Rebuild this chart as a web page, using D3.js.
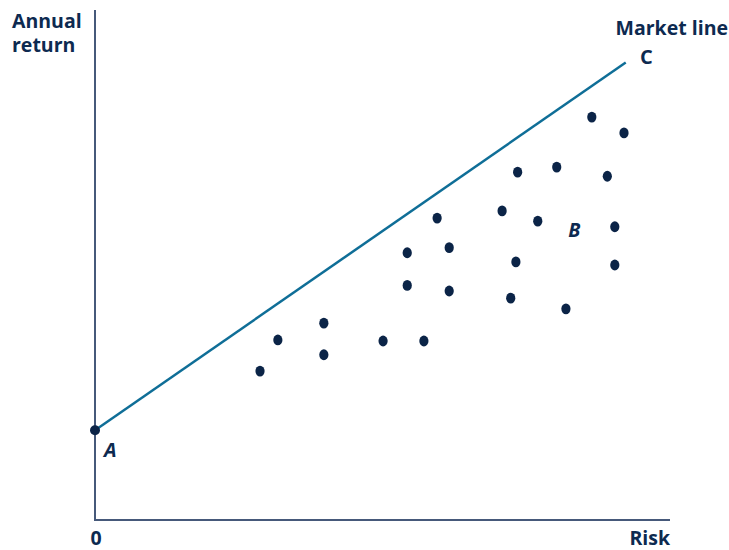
<!DOCTYPE html>
<html><head><meta charset="utf-8">
<script src="https://cdn.jsdelivr.net/npm/d3@7"></script>
<style>body{margin:0;background:#fff}svg{display:block}text{font-family:"Open Sans",sans-serif;font-weight:700;fill:#0d2a50}</style>
</head><body><svg id="c" width="729" height="550"></svg>
<script>
// Portfolio points (risk, annual return) in chart units
const riskValues   = [2.87,3.18,3.98,3.98,5.01,5.72,5.43,5.43,5.95,6.16,6.16,7.08,7.35,7.32,7.23,7.70,8.03,8.19,8.64,8.91,9.04,9.04,9.20];
const returnValues = [2.92,3.53,3.86,3.24,3.51,3.51,5.24,4.60,5.92,5.34,4.49,6.06,6.82,5.06,4.35,5.86,6.92,4.14,7.90,6.74,5.75,5.00,7.59];
// Market line from A to C
const marketLineX = [0, 9.23];
const marketLineY = [1.76, 8.97];

const svg = d3.select("#c");
const x = d3.scaleLinear().domain([0,10]).range([95,670]);
const y = d3.scaleLinear().domain([0,10]).range([520,10]);
const axisColor = "#46597a";

svg.append("line").attr("x1",x(0)).attr("x2",x(0)).attr("y1",y(10)).attr("y2",y(0))
  .attr("stroke",axisColor).attr("stroke-width",2);
svg.append("line").attr("x1",x(0)-1).attr("x2",x(10)).attr("y1",y(0)).attr("y2",y(0))
  .attr("stroke",axisColor).attr("stroke-width",2);

svg.append("line").attr("x1",x(marketLineX[0])).attr("y1",y(marketLineY[0]))
  .attr("x2",x(marketLineX[1])).attr("y2",y(marketLineY[1]))
  .attr("stroke","#0f6e97").attr("stroke-width",2.5);

svg.selectAll("ellipse.p").data(riskValues).enter().append("ellipse")
  .attr("cx",(d,i)=>x(d)).attr("cy",(d,i)=>y(returnValues[i]))
  .attr("rx",4.6).attr("ry",5.4).attr("fill","#0b2447");

svg.append("circle").attr("cx",x(0)).attr("cy",y(marketLineY[0])).attr("r",5).attr("fill","#0b2447");

// labels
svg.append("text").attr("x",x(0)+9).attr("y",y(marketLineY[0])+27).attr("font-size",20).attr("font-style","italic").text("A");
svg.append("text").attr("x",x(8.23)).attr("y",y(5.62)+4).attr("font-size",19.5).attr("font-style","italic").text("B");
svg.append("text").attr("x",640).attr("y",64).attr("font-size",20).text("C");

const yt = svg.append("text").attr("font-size",19.5);
yt.append("tspan").attr("x",12).attr("y",28).text("Annual");
yt.append("tspan").attr("x",12).attr("y",52).text("return");
svg.append("text").attr("x",728).attr("y",35).attr("font-size",19.5).attr("text-anchor","end").text("Market line");
svg.append("text").attr("x",x(0)+1).attr("y",545).attr("font-size",19.5).attr("text-anchor","middle").text("0");
svg.append("text").attr("x",x(10)).attr("y",545).attr("font-size",19.5).attr("text-anchor","end").text("Risk");
</script></body></html>
